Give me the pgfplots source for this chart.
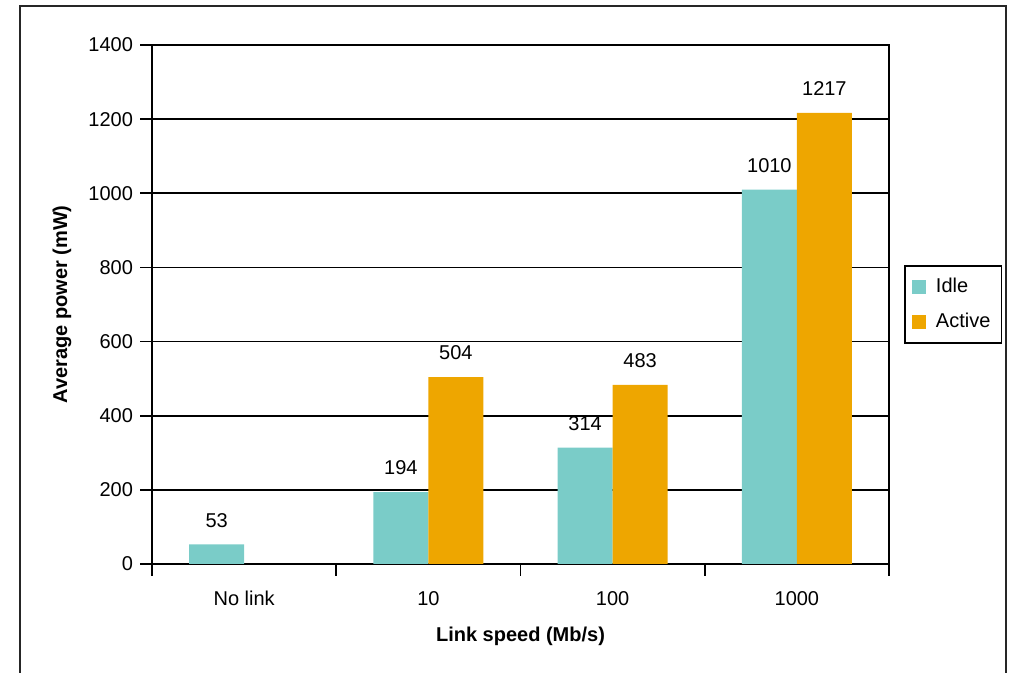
\documentclass[border=0pt]{standalone}
\usepackage{pgfplots}
\pgfplotsset{compat=1.18}
\usepackage{fontspec}
\setmainfont{Liberation Sans}
\definecolor{idle}{RGB}{122,204,200}
\definecolor{active}{RGB}{238,166,0}
\begin{document}
\begin{tikzpicture}
\begin{axis}[
  at={(0,0)}, anchor=south west,
  scale only axis, width=368.5pt, height=259.5pt,
  ybar=0pt, bar width=27.5pt,
  xmin=-0.5, xmax=3.5, ymin=0, ymax=1400,
  xtick={-0.5,0.5,1.5,2.5,3.5}, xticklabels={},
  extra x ticks={0,1,2,3}, extra x tick labels={No link,10,100,1000},
  extra x tick style={major tick length=0pt, grid=none, xticklabel style={yshift=-10pt}},
  xtick pos=bottom, ytick pos=left,
  ytick={0,200,...,1400},
  ymajorgrids, grid style={black, line width=0.8pt},
  tick align=outside, major tick length=6pt,
  tick style={black, line width=0.8pt},
  axis line style={black, line width=0.8pt},
  tick label style={font=\fontsize{10}{12}\selectfont},
  /pgf/number format/assume math mode=true,
  /pgf/number format/1000 sep={},
  ylabel={\bfseries Average power (mW)},
  xlabel={\bfseries Link speed (Mb/s)},
  every axis y label/.style={at={([xshift=-45pt]axis description cs:0,0.5)}, rotate=90, anchor=center, font=\fontsize{10}{12}\selectfont\bfseries},
  every axis x label/.style={at={([yshift=-36pt]axis description cs:0.5,0)}, anchor=center, font=\fontsize{10}{12}\selectfont\bfseries},
  nodes near coords,
  every node near coord/.append style={font=\fontsize{10}{12}\selectfont, yshift=5pt},
  legend style={at={(1.0204,0.576)}, anchor=north west, draw=black, line width=0.9pt,
    font=\fontsize{10}{12}\selectfont, row sep=5pt, inner xsep=3.5pt, inner ysep=4pt,
    cells={anchor=west},
    /tikz/every odd column/.append style={column sep=3pt}},
  legend image code/.code={\fill[#1, draw=none] (0pt,-3.5pt) rectangle (7pt,3.5pt);},
  clip=false,
]
\addplot[fill=idle, draw=none] coordinates {(0,53) (1,194) (2,314) (3,1010)};
\addplot[fill=active, draw=none] coordinates {(1,504) (2,483) (3,1217)};
\legend{Idle,Active}
\end{axis}
\draw[black!85, line width=1pt] (-66pt,-80pt) -- (-66pt,279pt) -- (427pt,279pt) -- (427pt,-80pt);
\pgfresetboundingbox
\path (-76pt,-54.5pt) rectangle (429.5pt,282pt);
\end{tikzpicture}
\end{document}
